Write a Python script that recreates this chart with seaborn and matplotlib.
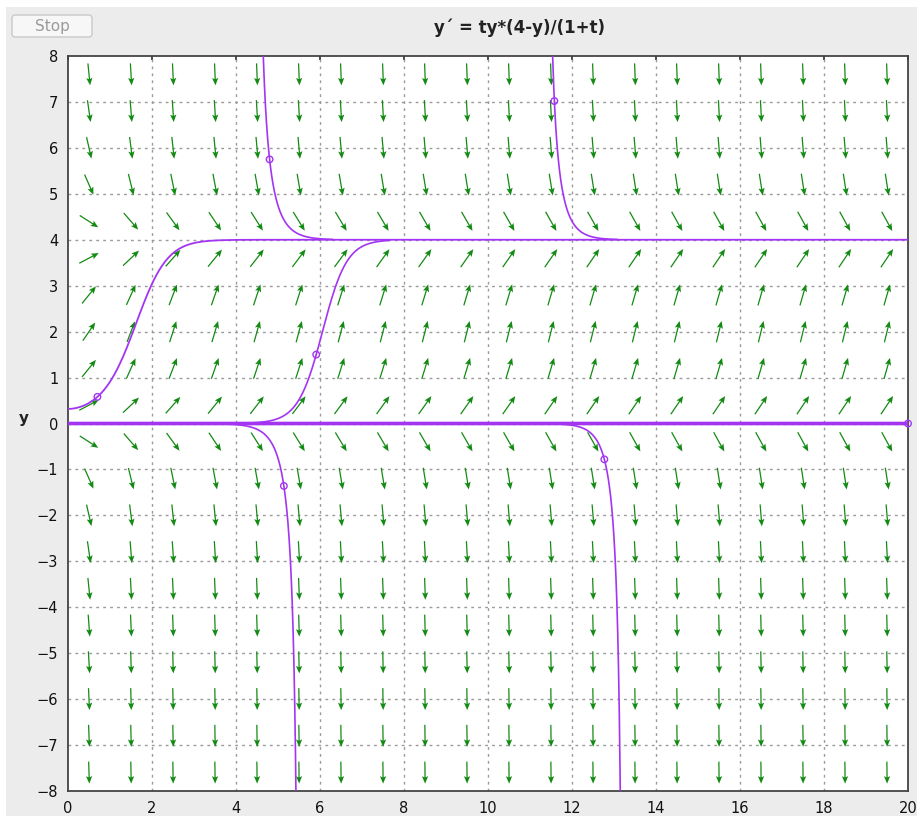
import numpy as np
import pandas as pd
import matplotlib
matplotlib.use("Agg")
import matplotlib.pyplot as plt
from matplotlib.patches import FancyBboxPatch, Rectangle
import seaborn as sns

# ---- data ----
title_text = "y\u00b4 = ty*(4-y)/(1+t)"
x_ticks = [0, 2, 4, 6, 8, 10, 12, 14, 16, 18, 20]
y_ticks = [-8, -7, -6, -5, -4, -3, -2, -1, 0, 1, 2, 3, 4, 5, 6, 7, 8]
# direction-field sample grid (20 x 20)
field_t = [0.5 + i for i in range(20)]
field_y = [-7.6 + 0.8 * j for j in range(20)]
# solution curves: initial points (circles) and the t-range shown
init_t = [0.70, 4.80, 5.91, 5.14, 11.58, 12.77, 20.0]
init_y = [0.58, 5.75, 1.50, -1.36, 7.02, -0.78, 0.0]
t_low = [0.0, 0.0, 0.0, 0.0, 0.0, 0.0, 0.0]
t_high = [20.0, 6.30, 7.65, 20.0, 13.08, 20.0, 20.0]
line_w = [1.3, 1.2, 1.2, 1.2, 1.2, 1.2, 2.6]


def f(t, y):
    return t * y * (4 - y) / (1 + t)


def integrate(t0, y0, t_end, h=0.002):
    ts, ys = [t0], [y0]
    t, y = t0, y0
    step = h if t_end > t0 else -h
    while (t_end - t) * np.sign(step) > 1e-12:
        hh = step if abs(t_end - t) > abs(step) else (t_end - t)
        k1 = f(t, y)
        k2 = f(t + hh / 2, y + hh / 2 * k1)
        k3 = f(t + hh / 2, y + hh / 2 * k2)
        k4 = f(t + hh, y + hh * k3)
        y = y + hh / 6 * (k1 + 2 * k2 + 2 * k3 + k4)
        t = t + hh
        ts.append(t)
        ys.append(y)
        if abs(y) > 8.6:
            break
    return ts, ys


W, H = 917, 816
sns.set_theme(style="white")
plt.rcParams["font.family"] = ["DejaVu Sans"]

fig = plt.figure(figsize=(W / 100, H / 100), dpi=100)
fig.patch.set_facecolor("white")
fig.add_artist(Rectangle((6 / W, 0), 1, 1 - 7 / H, transform=fig.transFigure,
                         facecolor="#ececec", edgecolor="none", zorder=0))

L, R, T, B = 68, 908, 56, 791
ax = fig.add_axes([L / W, 1 - B / H, (R - L) / W, (B - T) / H])
ax.set_facecolor("white")
ax.set_xlim(0, 20)
ax.set_ylim(-8, 8)

# grid
for xv in x_ticks[1:-1]:
    ax.axvline(xv, color="#9a9a9a", lw=1, ls=(0, (2, 3)), zorder=1)
for yv in y_ticks[1:-1]:
    ax.axhline(yv, color="#9a9a9a", lw=1, ls=(0, (2, 3)), zorder=1)

# direction field (unit arrows in screen space)
px_x = (R - L) / 20.0
px_y = (B - T) / 16.0
TT, YY = np.meshgrid(field_t, field_y)
S = f(TT, YY)
dx = np.full_like(S, px_x)
dy = S * px_y
n = np.hypot(dx, dy)
U, V = dx / n, dy / n
ax.quiver(TT, YY, U, V, angles="uv", pivot="middle", scale_units="dots",
          scale=1 / 22.0, units="dots", width=1.25, headwidth=5,
          headlength=6, headaxislength=5, color="#138a13", zorder=2)

# solution curves
purple = "#a335f2"
for k in range(len(init_t)):
    tb, yb = integrate(init_t[k], init_y[k], t_low[k])
    tf, yf = integrate(init_t[k], init_y[k], t_high[k])
    ts = tb[::-1] + tf[1:]
    ys = yb[::-1] + yf[1:]
    df = pd.DataFrame({"t": ts, "y": ys})
    sns.lineplot(data=df, x="t", y="y", sort=False, estimator=None, ax=ax,
                 color=purple, lw=line_w[k], zorder=3)
pts = pd.DataFrame({"t": init_t, "y": init_y})
sns.scatterplot(data=pts, x="t", y="y", ax=ax, s=22, facecolor="none",
                edgecolor=purple, linewidth=1.0, zorder=4, clip_on=False)

ax.set_xlabel("")
ax.set_ylabel("")
ax.set_xticks(x_ticks)
ax.set_yticks(y_ticks)
ax.set_xticklabels([str(v) for v in x_ticks])
ax.set_yticklabels([str(v).replace("-", "\u2212") for v in y_ticks])
ax.tick_params(axis="both", direction="out", length=4, width=1, color="#333333",
               labelsize=10.5, labelcolor="#111111", pad=3)
secx = ax.secondary_xaxis("top")
secx.set_xticks(x_ticks)
secx.tick_params(direction="in", length=3, color="#333333", labeltop=False)
secx.spines["top"].set_visible(False)
for sp in ax.spines.values():
    sp.set_color("#444444")
    sp.set_linewidth(1.3)
    sp.set_visible(True)

# title and y label
fig.text(520 / W, 1 - 28 / H, title_text, ha="center", va="center",
         fontsize=12, fontweight="bold", color="#222222")
fig.text(24 / W, 1 - 419 / H, "y", ha="center", va="center",
         fontsize=11, fontweight="bold", color="#222222")

# Stop button
fig.add_artist(FancyBboxPatch((12 / W, 1 - 37 / H), 80 / W, 22 / H,
                              boxstyle="round,pad=0,rounding_size=0.004",
                              transform=fig.transFigure, facecolor="#f7f7f7",
                              edgecolor="#c9c9c9", lw=1, zorder=1))
fig.text(52 / W, 1 - 26 / H, "Stop", ha="center", va="center",
         fontsize=11, color="#9a9a9a")

fig.savefig("out.png", dpi=100)
